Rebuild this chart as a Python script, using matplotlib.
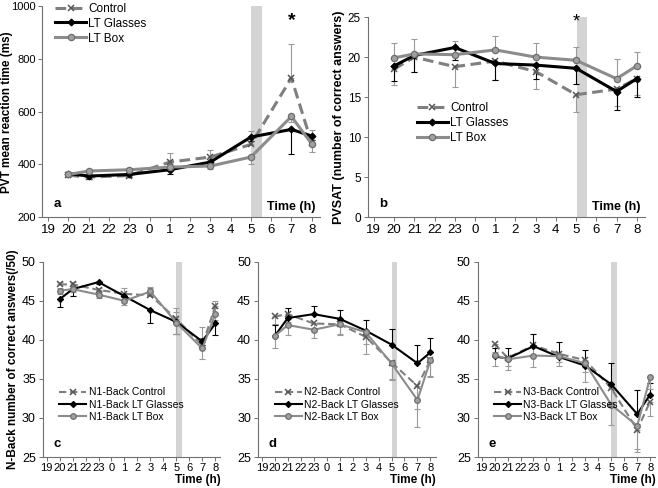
import matplotlib
matplotlib.use("Agg")
import matplotlib.pyplot as plt
import numpy as np

plt.rcParams['font.family'] = ['Liberation Sans', 'DejaVu Sans']

# x axis categories (clock hours) and the hours at which tests were done
hours = ['19', '20', '21', '22', '23', '0', '1', '2', '3', '4', '5', '6', '7', '8']
test_hours = ['20', '21', '23', '1', '3', '5', '7', '8']

# PVT mean reaction time (ms)
pvt_control = [359, 352, 358, 409, 428, 476, 728, 481]
pvt_glasses = [365, 356, 362, 380, 409, 504, 533, 508]
pvt_box = [362, 375, 380, 390, 394, 428, 582, 478]
pvt_control_err = [10, 10, 10, 35, 25, 50, 130, 50]
pvt_glasses_err = [10, 10, 10, 15, 10, 15, 93, 15]
pvt_box_err = [10, 10, 10, 10, 10, 25, 20, 30]

# PVSAT correct answers
pvsat_control = [18.5, 20.0, 18.8, 19.5, 18.2, 15.3, 16.0, 17.3]
pvsat_glasses = [18.9, 20.2, 21.2, 19.2, 19.0, 18.6, 15.7, 17.3]
pvsat_box = [19.9, 20.4, 20.3, 20.9, 20.0, 19.6, 17.3, 18.9]
pvsat_control_err = [2.0, 1.8, 2.5, 2.4, 2.2, 2.2, 2.1, 2.0]
pvsat_glasses_err = [1.9, 2.0, 1.6, 2.0, 1.7, 1.9, 2.3, 2.3]
pvsat_box_err = [1.8, 1.9, 1.7, 1.7, 1.75, 1.6, 2.4, 1.7]

# N-back correct answers (/50)
n1_control = [47.1, 47.1, 46.4, 45.9, 45.7, 42.7, 39.3, 44.3]
n1_glasses = [45.2, 46.5, 47.4, 45.6, 43.8, 42.3, 39.8, 42.1]
n1_box = [46.3, 46.5, 45.8, 45.0, 46.2, 42.2, 38.9, 43.3]
n1_control_err = [0.3, 0.3, 0.3, 0.8, 1.0, 1.4, 2.3, 0.7]
n1_glasses_err = [1.0, 0.9, 0.3, 0.5, 1.7, 1.6, 0.5, 1.5]
n1_box_err = [0.4, 0.4, 0.4, 0.5, 0.6, 1.4, 1.3, 0.8]

n2_control = [43.0, 43.3, 42.1, 42.0, 40.4, 37.1, 34.1, 37.4]
n2_glasses = [40.5, 42.8, 43.3, 42.7, 41.2, 39.4, 37.0, 38.4]
n2_box = [40.5, 41.9, 41.3, 42.0, 41.0, 37.0, 32.3, 37.4]
n2_control_err = [1.0, 1.0, 1.0, 1.2, 2.2, 2.3, 3.0, 2.0]
n2_glasses_err = [1.4, 1.3, 1.0, 1.1, 1.4, 2.0, 2.4, 1.9]
n2_box_err = [1.5, 1.3, 1.0, 1.4, 1.5, 2.0, 3.5, 2.1]

n3_control = [39.5, 37.7, 39.3, 38.2, 37.4, 33.8, 28.5, 32.1]
n3_glasses = [37.9, 37.6, 39.2, 37.8, 36.7, 34.3, 30.5, 33.0]
n3_box = [38.1, 37.5, 38.0, 37.9, 37.0, 31.7, 29.0, 35.2]
n3_control_err = [1.0, 1.0, 1.2, 1.0, 1.5, 2.0, 2.5, 1.9]
n3_glasses_err = [1.0, 1.4, 1.6, 1.9, 2.0, 2.7, 3.1, 1.5]
n3_box_err = [1.5, 1.3, 1.5, 1.2, 2.4, 2.6, 3.3, 1.5]

xpos = [hours.index(h) for h in test_hours]


def yerr(err, side):
    err = np.array(err, dtype=float)
    zero = np.zeros_like(err)
    if side == 'up':
        return [zero, err]
    if side == 'down':
        return [err, zero]
    return [err, err]


def panel(ax, series, lw, ms, band, ylim, yticks):
    ax.axvspan(band[0], band[1], color='#d4d4d4', lw=0, zorder=0)
    for vals, err, side, style in series:
        ax.errorbar(xpos, vals, yerr=yerr(err, side), color=style['ecolor'],
                    elinewidth=0.8, capsize=2.2, capthick=0.8, fmt='none', zorder=2)
    for vals, err, side, style in series:
        ax.plot(xpos, vals, color=style['color'], ls=style['ls'], lw=lw,
                marker=style['marker'], ms=ms * style['msf'],
                mfc=style['mfc'], mec=style['mec'], mew=style['mew'],
                label=style['label'], zorder=3)
    ax.set_xlim(-0.3, 13.4)
    ax.set_ylim(*ylim)
    ax.set_yticks(yticks)
    ax.set_xticks(range(len(hours)))
    ax.set_xticklabels(hours)
    for s in ['top', 'right']:
        ax.spines[s].set_visible(False)
    for s in ['left', 'bottom']:
        ax.spines[s].set_color('#707070')
        ax.spines[s].set_linewidth(0.8)
    ax.tick_params(direction='out', length=3, width=0.7, color='#707070', pad=2)


def styles(prefix):
    return [
        dict(color='#7f7f7f', ecolor='#9a9a9a', ls=(0, (3.5, 1.8)), marker='x', msf=1.0,
             mfc='none', mec='#555555', mew=1.1, label=prefix + 'Control'),
        dict(color='black', ecolor='black', ls='-', marker='D', msf=0.7,
             mfc='black', mec='black', mew=0.8, label=prefix + 'LT Glasses'),
        dict(color='#8c8c8c', ecolor='#9a9a9a', ls='-', marker='o', msf=0.9,
             mfc='#a0a0a0', mec='#6e6e6e', mew=0.9, label=prefix + 'LT Box'),
    ]


fig = plt.figure(figsize=(6.58, 4.88), dpi=100)

# a: PVT
ax_a = fig.add_axes([0.064, 0.555, 0.422, 0.432])
st = styles('')
panel(ax_a, [(pvt_control, pvt_control_err, 'up', st[0]),
             (pvt_glasses, pvt_glasses_err, 'down', st[1]),
             (pvt_box, pvt_box_err, 'down', st[2])],
      2.2, 5, (10, 10.55), (200, 1000), [200, 400, 600, 800, 1000])
ax_a.tick_params(axis='y', labelsize=8, pad=1.5)
ax_a.tick_params(axis='x', labelsize=9.5)
ax_a.set_ylabel('PVT mean reaction time (ms)', fontsize=8.5, fontweight='bold')
ax_a.yaxis.set_label_coords(-0.105, 0.5)
ax_a.text(12, 947, '*', ha='center', va='center', fontsize=14, fontweight='bold')
ax_a.text(0.04, 0.05, 'a', transform=ax_a.transAxes, fontsize=9.5, fontweight='bold')
ax_a.text(0.985, 0.02, 'Time (h)', transform=ax_a.transAxes, ha='right', va='bottom',
          fontsize=9, fontweight='bold')
ax_a.legend(loc='upper left', bbox_to_anchor=(0.03, 1.04), frameon=False, fontsize=8.5,
            handlelength=2.6, labelspacing=0.25, handletextpad=0.2, borderaxespad=0)

# b: PVSAT
ax_b = fig.add_axes([0.559, 0.555, 0.421, 0.41])
panel(ax_b, [(pvsat_control, pvsat_control_err, 'down', st[0]),
             (pvsat_glasses, pvsat_glasses_err, 'down', st[1]),
             (pvsat_box, pvsat_box_err, 'up', st[2])],
      2.2, 5, (10.05, 10.55), (0, 25), [0, 5, 10, 15, 20, 25])
ax_b.tick_params(axis='y', labelsize=8.5)
ax_b.tick_params(axis='x', labelsize=9.5)
ax_b.set_ylabel('PVSAT (number of correct answers)', fontsize=9, fontweight='bold', labelpad=2)
ax_b.text(10, 24.4, '*', ha='center', va='center', fontsize=13)
ax_b.text(0.04, 0.05, 'b', transform=ax_b.transAxes, fontsize=9.5, fontweight='bold')
ax_b.text(0.985, 0.02, 'Time (h)', transform=ax_b.transAxes, ha='right', va='bottom',
          fontsize=9, fontweight='bold')
ax_b.legend(loc='upper left', bbox_to_anchor=(0.16, 0.6), frameon=False, fontsize=8.5,
            handlelength=2.6, labelspacing=0.25, handletextpad=0.2, borderaxespad=0)

# c, d, e: N-back
nback = [
    ('N1-Back ', n1_control, n1_glasses, n1_box, n1_control_err, n1_glasses_err, n1_box_err,
     ('up', 'down', 'both'), 0.065, 'c'),
    ('N2-Back ', n2_control, n2_glasses, n2_box, n2_control_err, n2_glasses_err, n2_box_err,
     ('down', 'up', 'down'), 0.392, 'd'),
    ('N3-Back ', n3_control, n3_glasses, n3_box, n3_control_err, n3_glasses_err, n3_box_err,
     ('down', 'up', 'down'), 0.726, 'e'),
]
for prefix, ctl, gls, box, ce, ge, be, sides, left, letter in nback:
    ax = fig.add_axes([left, 0.0635, 0.27, 0.40])
    st = styles(prefix)
    panel(ax, [(ctl, ce, sides[0], st[0]), (gls, ge, sides[1], st[1]), (box, be, sides[2], st[2])],
          1.5, 4.5, (10, 10.45), (25, 50), [25, 30, 35, 40, 45, 50])
    ax.tick_params(axis='y', labelsize=9)
    ax.tick_params(axis='x', labelsize=8, pad=1.5)
    ax.text(0.06, 0.05, letter, transform=ax.transAxes, fontsize=9.5, fontweight='bold')
    ax.text(1.0, -0.085, 'Time (h)', transform=ax.transAxes, ha='right', va='top',
            fontsize=8.5, fontweight='bold')
    ax.legend(loc='lower left', bbox_to_anchor=(0.07, 0.16), frameon=False, fontsize=7.5,
              handlelength=2.6, labelspacing=0.2, handletextpad=0.2, borderaxespad=0)
    if letter == 'c':
        ax.set_ylabel('N-Back number of correct answers(/50)', fontsize=8.5,
                      fontweight='bold', labelpad=2)

fig.savefig('out.png', dpi=100)
